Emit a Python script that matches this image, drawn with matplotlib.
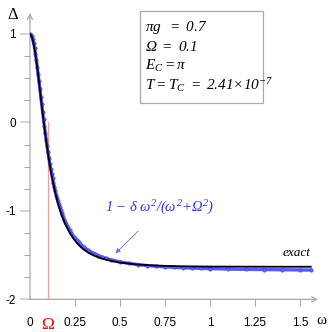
import matplotlib
matplotlib.use("Agg")
import matplotlib.pyplot as plt
from matplotlib.ticker import FixedLocator
from matplotlib.patches import Rectangle

plt.rcParams['mathtext.fontset'] = 'custom'
plt.rcParams['mathtext.rm'] = 'Liberation Serif:italic'
plt.rcParams['mathtext.it'] = 'Liberation Serif:italic'
plt.rcParams['mathtext.default'] = 'it'

# exact curve
w_exact = [0, 0.01, 0.02, 0.03, 0.04, 0.05, 0.06, 0.07, 0.08, 0.09, 0.10, 0.11, 0.12,
           0.13, 0.14, 0.15, 0.16, 0.17, 0.18, 0.19, 0.20, 0.22, 0.24, 0.26, 0.28, 0.30,
           0.33, 0.36, 0.40, 0.45, 0.50, 0.60, 0.70, 0.80, 0.90, 1.00, 1.20, 1.40, 1.56]
d_exact = [1.00, 0.972, 0.894, 0.775, 0.625, 0.458, 0.284, 0.110, -0.056, -0.210, -0.352,
           -0.480, -0.596, -0.700, -0.792, -0.873, -0.946, -1.011, -1.069, -1.120, -1.166,
           -1.245, -1.310, -1.362, -1.405, -1.440, -1.480, -1.510, -1.540, -1.566, -1.585,
           -1.607, -1.619, -1.625, -1.628, -1.630, -1.631, -1.632, -1.632]

# approximation 1 - delta w^2/(w^2+Omega^2)
w_approx = [0, 0.005, 0.01, 0.015, 0.02, 0.025, 0.03, 0.035, 0.04, 0.045, 0.05, 0.055,
            0.06, 0.065, 0.07, 0.075, 0.08, 0.085, 0.09, 0.095, 0.10, 0.105, 0.11, 0.115,
            0.12, 0.125, 0.13, 0.135, 0.14, 0.145, 0.15, 0.155, 0.16, 0.165, 0.17, 0.175,
            0.18, 0.185, 0.19, 0.195, 0.20, 0.21, 0.22, 0.23, 0.24, 0.25, 0.26, 0.27, 0.28,
            0.29, 0.30, 0.32, 0.33, 0.35, 0.36, 0.38, 0.40, 0.42, 0.45, 0.50, 0.55, 0.60,
            0.65, 0.70, 0.75, 0.80, 0.85, 0.90, 0.95, 1.00, 1.10, 1.20, 1.30, 1.40, 1.50,
            1.56]
d_approx = [1.00, 0.993, 0.973, 0.941, 0.897, 0.842, 0.779, 0.708, 0.630, 0.549, 0.464,
            0.378, 0.291, 0.204, 0.119, 0.035, -0.046, -0.124, -0.199, -0.271, -0.340,
            -0.405, -0.467, -0.526, -0.582, -0.634, -0.684, -0.730, -0.775, -0.816, -0.855,
            -0.892, -0.927, -0.960, -0.991, -1.020, -1.048, -1.074, -1.099, -1.122, -1.144,
            -1.185, -1.221, -1.254, -1.284, -1.311, -1.335, -1.357, -1.377, -1.395, -1.412,
            -1.442, -1.455, -1.478, -1.488, -1.506, -1.522, -1.536, -1.554, -1.577, -1.594,
            -1.608, -1.618, -1.626, -1.633, -1.639, -1.643, -1.647, -1.651, -1.653, -1.658,
            -1.662, -1.664, -1.666, -1.668, -1.669]

x_ticks = [0, 0.1, 0.25, 0.5, 0.75, 1, 1.25, 1.5]
x_labels = ['0', 'Ω', '0.25', '0.5', '0.75', '1', '1.25', '1.5']
y_ticks = [-2, -1, 0, 1]
y_labels = ['-2', '-1', '0', '1']
y_minor = [-1.75, -1.5, -1.25, -0.75, -0.5, -0.25, 0.25, 0.5, 0.75]
omega_val = 0.1

params = [r'$\pi g\ \ {=}\ 0.7$', r'$\Omega\ {=}\ 0.1$', r'$E_C{=}\pi$',
          r'$T{=}T_C\ {=}\ 2.41{\times}10^{-7}$']
approx_label = r'$1\ {-}\ \delta\ \omega^2/(\omega^2{+}\Omega^2)$'

gray = '#a8a8a8'
blue = '#3030ff'

fig = plt.figure(figsize=(3.32, 3.32), dpi=100)
ax = fig.add_axes([30/332, 1-299.3/332, 288/332, (299.3-13)/332])
ax.set_xlim(0, 1.6)
ax.set_ylim(-2, 1.237)
for s in ax.spines.values():
    s.set_visible(False)

# axes with arrows
ax.annotate('', xy=(1.6, -2), xytext=(0, -2), xycoords='data',
            arrowprops=dict(arrowstyle='->', color=gray, lw=0.9, shrinkA=0, shrinkB=0,
                            mutation_scale=9), annotation_clip=False)
ax.annotate('', xy=(0, 1.237), xytext=(0, -2), xycoords='data',
            arrowprops=dict(arrowstyle='->', color=gray, lw=0.9, shrinkA=0, shrinkB=0,
                            mutation_scale=9), annotation_clip=False)

ax.plot([omega_val, omega_val], [0, -2], color='#ff9a9a', lw=0.9, zorder=1)

ax.plot(w_approx, d_approx, color=blue, lw=2.4, zorder=2, alpha=0.8)
ax.plot(w_approx, d_approx, 'o', color=blue, ms=2.4, mfc='#6a6aff', mew=0.4, zorder=3)
ax.plot(w_exact, d_exact, color='black', lw=1.3, zorder=4)

ax.xaxis.set_major_locator(FixedLocator(x_ticks))
ax.set_xticklabels(x_labels)
ax.yaxis.set_major_locator(FixedLocator(y_ticks))
ax.set_yticklabels(y_labels)
ax.yaxis.set_minor_locator(FixedLocator(y_minor))
ax.tick_params(axis='x', which='major', length=5, width=0.8, color=gray, pad=8,
               labelsize=8.5)
ax.tick_params(axis='y', which='major', length=7, width=1.2, color='#cccccc', pad=3,
               labelsize=8.5)
ax.tick_params(axis='y', which='minor', length=4, width=0.8, color=gray)
for lab in ax.get_xticklabels() + ax.get_yticklabels():
    lab.set_fontfamily('Liberation Sans')
xl = ax.get_xticklabels()
xl[1].set_color('red')
xl[1].set_fontfamily('Liberation Serif')
xl[1].set_fontsize(12.5)
ax.xaxis.get_major_ticks()[1].tick1line.set_visible(False)
ax.xaxis.get_major_ticks()[0].tick1line.set_visible(False)

fig.text(13/332, 1-15/332, 'Δ', fontfamily='Liberation Serif', fontsize=12,
         ha='center', va='center')
fig.text(321/332, 1-320/332, 'ω', fontfamily='Liberation Serif', fontsize=11,
         ha='center', va='center')

# parameter box
fig.patches.append(Rectangle((140/332, 1-103/332), 123/332, 92/332, transform=fig.transFigure,
                             fill=False, edgecolor=gray, lw=0.9))
for i, t in enumerate(params):
    fig.text(145/332, 1-(27+19.5*i)/332, t, fontsize=11, ha='left', va='center')

ax.text(1.48, -1.48, 'exact', fontfamily='Liberation Serif', style='italic',
        fontsize=9.5, ha='center', va='center')
ax.text(1.02, -0.97, approx_label, color=blue, fontsize=10.5, ha='right', va='center')
ax.annotate('', xy=(0.475, -1.48), xytext=(0.6, -1.23),
            arrowprops=dict(arrowstyle='-|>', color='#6a6aff', lw=0.6,
                            mutation_scale=7, shrinkA=0, shrinkB=0))

fig.savefig('out.png', dpi=100)
